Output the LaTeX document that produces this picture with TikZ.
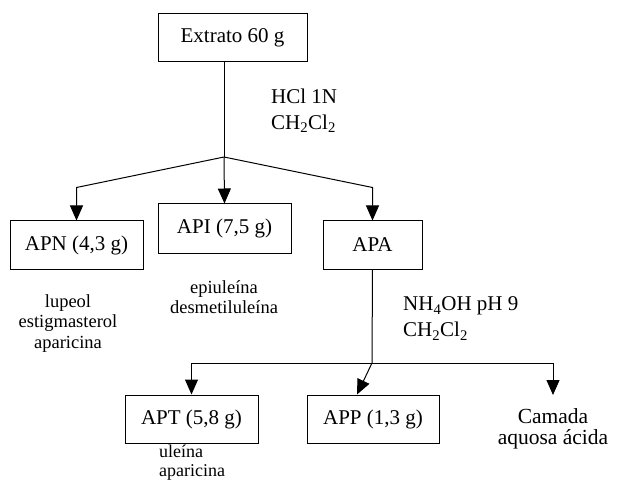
\documentclass[tikz,border=0pt]{standalone}
\usepackage{fontspec}
\setmainfont{Liberation Serif}
\usepackage{tikz}
\usetikzlibrary{calc,arrows.meta,positioning}

\tikzset{
  caixa/.style={draw, line width=1pt, minimum height=48pt, inner sep=0pt,
    font=\fontsize{21}{25}\selectfont},
  seta/.style={-{Triangle[length=15pt,width=13pt]}, line width=1pt},
  linha/.style={line width=1pt},
  rotulo/.style={font=\fontsize{21}{26}\selectfont, align=left, anchor=west, inner sep=0pt},
  nota/.style={font=\fontsize{18.5}{20.5}\selectfont, align=center, inner sep=0pt}
}

\begin{document}
\begin{tikzpicture}[x=1pt,y=-1pt]
\useasboundingbox (0,0) rectangle (619,484);

% 箱
\node[caixa, minimum width=149pt] (ext) at (232.5,38) {Extrato 60 g};
\node[caixa, minimum width=133pt] (apn) at (76.5,245) {APN (4,3 g)};
\node[caixa, minimum width=133pt, minimum height=49pt] (api) at (224.5,228.5) {API (7,5 g)};
\node[caixa, minimum width=99pt] (apa) at (372.5,245) {APA};
\node[caixa, minimum width=133pt] (apt) at (191.5,419) {APT (5,8 g)};
\node[caixa, minimum width=132pt] (app) at (373,419) {APP (1,3 g)};
\node[font=\fontsize{21.5}{21}\selectfont, align=center, anchor=north, inner sep=0pt]
  (cam) at (553,408) {Camada\\aquosa ácida};

% 試薬
\node[rotulo] (hcl) at (271,110.5) {HCl 1N\\CH\textsubscript{2}Cl\textsubscript{2}};
\node[rotulo] (nh) at (403,318.5) {NH\textsubscript{4}OH pH 9\\CH\textsubscript{2}Cl\textsubscript{2}};

% 成分
\node[nota] (lup) at (68,323.5) {lupeol\\estigmasterol\\aparicina};
\node[nota] (epi) at (224,297) {epiuleína\\desmetiluleína};
\node[nota, font=\fontsize{18}{19.5}\selectfont, align=left, anchor=north west]
  (ule) at (159,444.5) {uleína\\aparicina};

% 分岐点
\coordinate (s1) at (224,157);
\coordinate (s2) at (372,363);
\path (apn.north) ++(0,-33) coordinate (e1);
\path (apa.north) ++(0,-33) coordinate (e2);

% 矢印
\draw[linha] (ext.south -| s1) -- (s1);
\draw[seta] (s1) -- (e1) -- (apn.north);
\draw[seta] (s1) -- (api.north);
\draw[seta] (s1) -- (e2) -- (apa.north);
\draw[linha] (apa.south) -- (s2);
\draw[seta] (s2) -| (apt.north);
\draw[seta] (s2) -- ([xshift=-16pt]app.north);
\draw[seta] (s2) -| ([yshift=13pt]cam.north);

\end{tikzpicture}
\end{document}
